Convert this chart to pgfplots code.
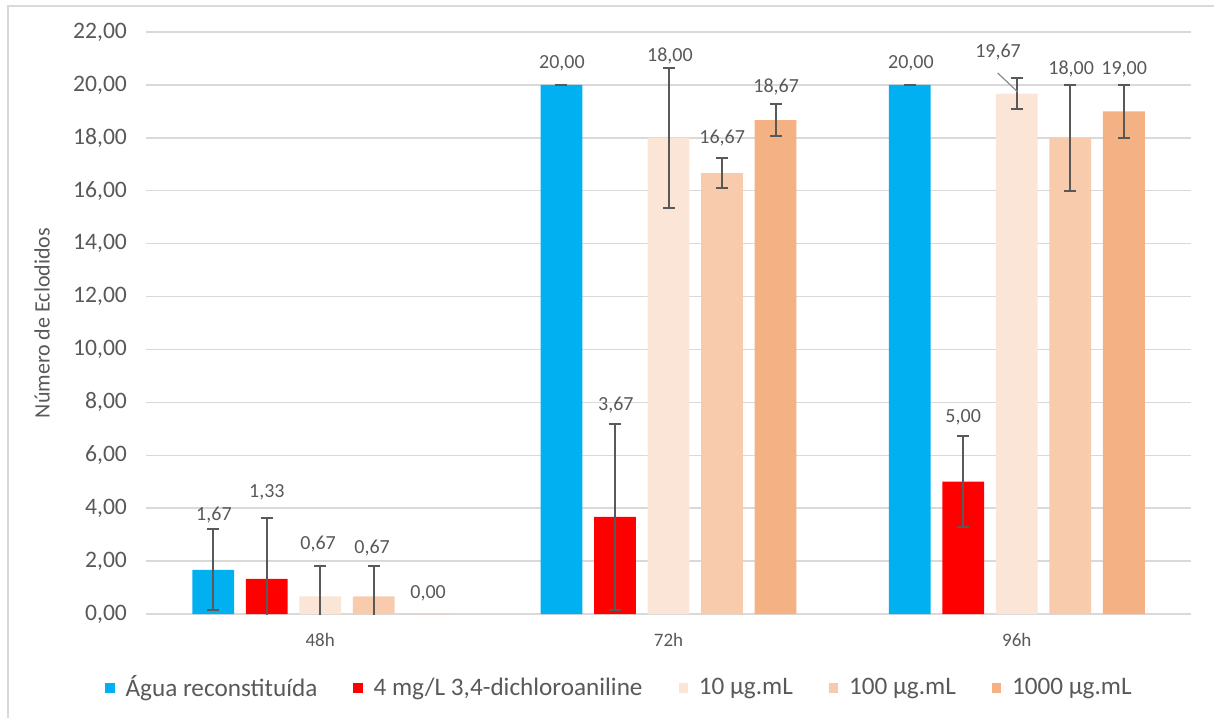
\documentclass[border=0pt]{standalone}
\usepackage{pgfplots}
\pgfplotsset{compat=1.18}
\usepackage{pgfplotstable}
\usepackage{fontspec}
\setmainfont{Carlito}
\definecolor{cblue}{HTML}{00B0F0}
\definecolor{cred}{HTML}{FF0000}
\definecolor{cA}{HTML}{FBE5D6}
\definecolor{cB}{HTML}{F8CBAD}
\definecolor{cC}{HTML}{F4B183}
\definecolor{txt}{HTML}{595959}
\definecolor{gridc}{HTML}{D9D9D9}
\definecolor{errc}{HTML}{595959}
\tikzset{lbl/.style={font=\fontsize{10}{12}\selectfont, text=txt, inner sep=0pt}}

\pgfplotstableread{
x y e
0 1.67 1.53
1 20.00 0
2 20.00 0
}\tblue
\pgfplotstableread{
x y e
0 1.33 2.31
1 3.67 3.51
2 5.00 1.71
}\tred
\pgfplotstableread{
x y e
0 0.67 1.15
1 18.00 2.65
2 19.67 0.58
}\tA
\pgfplotstableread{
x y e
0 0.67 1.15
1 16.67 0.57
2 18.00 2.00
}\tB
\pgfplotstableread{
x y e
0 0.00 nan
1 18.67 0.60
2 19.00 1.00
}\tC

\begin{document}
\begin{tikzpicture}
\useasboundingbox (0,0) rectangle (607pt,-358.5pt);
\draw[gridc, line width=0.8pt] (4pt,-3pt) rectangle (650pt,-400pt);
\begin{axis}[
  at={(73pt,-307pt)}, anchor=south west,
  width=522.5pt, height=291pt, scale only axis,
  xmin=-0.5, xmax=2.5, ymin=0, ymax=22,
  ybar, bar width=0.12,
  clip mode=individual,
  xtick={0,1,2}, xticklabels={48h,72h,96h},
  ytick={0,2,...,22},
  ymajorgrids, grid style={gridc, line width=0.7pt},
  axis x line*=bottom, axis y line*=left,
  x axis line style={gridc, line width=0.7pt, -},
  y axis line style={draw=none},
  major tick length=0pt,
  xticklabel style={font=\fontsize{9.5}{11}\selectfont, text=txt, yshift=-6pt},
  yticklabel style={font=\fontsize{11.8}{14}\selectfont, text=txt, xshift=-6pt,
    /pgf/number format/.cd, fixed, fixed zerofill, precision=2, use comma, assume math mode=true},
  error bars/y dir=both, error bars/y explicit,
  error bars/error bar style={errc, line width=1pt},
  error bars/error mark options={errc, rotate=90, mark size=3pt, line width=1pt},
  legend columns=5,
  legend style={at={(rel axis cs:-0.045,-0.127)}, anchor=west, draw=none, fill=none,
    font=\fontsize{12.6}{14}\selectfont, text=txt,
    /tikz/every odd column/.append style={column sep=3.5pt},
    /tikz/every even column/.append style={column sep=16pt}},
  legend image code/.code={\fill[#1,draw=none] (0pt,-2.6pt) rectangle (4.6pt,2.6pt);},
]
\addplot[fill=cblue, draw=none, bar shift=-0.3072] table[x=x,y=y,y error=e] {\tblue};
\addlegendentry{Água reconstituída}
\addplot[fill=cred, draw=none, bar shift=-0.1536] table[x=x,y=y,y error=e] {\tred};
\addlegendentry{4 mg/L 3,4-dichloroaniline}
\addplot[fill=cA, draw=none, bar shift=0] table[x=x,y=y,y error=e] {\tA};
\addlegendentry{10 µg.mL}
\addplot[fill=cB, draw=none, bar shift=0.1536] table[x=x,y=y,y error=e] {\tB};
\addlegendentry{100 µg.mL}
\addplot[fill=cC, draw=none, bar shift=0.3072] table[x=x,y=y,y error=e] {\tC};
\addlegendentry{1000 µg.mL}

\node[lbl] at (axis cs:-0.305,3.74) {1,67};
\node[lbl] at (axis cs:-0.153,4.61) {1,33};
\node[lbl] at (axis cs:-0.006,2.65) {0,67};
\node[lbl] at (axis cs:0.149,2.50) {0,67};
\node[lbl] at (axis cs:0.310,0.80) {0,00};
\node[lbl] at (axis cs:0.694,20.80) {20,00};
\node[lbl] at (axis cs:0.849,7.90) {3,67};
\node[lbl] at (axis cs:1.004,21.10) {18,00};
\node[lbl] at (axis cs:1.154,18.00) {16,67};
\node[lbl] at (axis cs:1.309,19.92) {18,67};
\node[lbl] at (axis cs:1.696,20.80) {20,00};
\node[lbl] at (axis cs:1.846,7.45) {5,00};
\node[lbl] at (axis cs:1.946,21.25) {19,67};
\node[lbl] at (axis cs:2.156,20.60) {18,00};
\node[lbl] at (axis cs:2.308,20.60) {19,00};
\draw[errc!70, line width=0.6pt] (axis cs:1.945,20.45) -- (axis cs:2.003,19.73);
\end{axis}
\node[rotate=90, font=\fontsize{11}{13}\selectfont, text=txt] at (21pt,-161.5pt) {Número de Eclodidos};
\end{tikzpicture}
\end{document}
